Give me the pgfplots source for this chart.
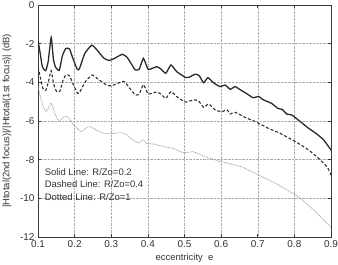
\documentclass[border=0pt]{standalone}
\usepackage{pgfplots}
\pgfplotsset{compat=1.18}
\usepackage{fontspec}
\setmainfont{Liberation Sans}

\definecolor{solidc}{HTML}{2A2A2A}
\definecolor{dashc}{HTML}{303030}
\definecolor{dotc}{HTML}{9A9A9A}
\definecolor{framec}{HTML}{3A3A3A}
\definecolor{textc}{HTML}{333333}

\begin{document}
\begin{tikzpicture}
\begin{axis}[
  name=ax,
  scale only axis,
  width=293bp, height=232bp,
  xmin=0.1, xmax=0.9, ymin=-12, ymax=0,
  xtick={0.1,0.2,0.3,0.4,0.5,0.6,0.7,0.8,0.9},
  xticklabels={0.1,0.2,0.3,0.4,0.5,0.6,0.7,0.8,0.9},
  ytick={-12,-10,-8,-6,-4,-2,0},
  yticklabels={-12,-10,-8,-6,-4,-2,0},
  tick align=inside,
  xtick pos=both, ytick pos=both,
  major tick length=3bp,
  grid=major,
  grid style={densely dotted, gray!65, line width=0.4pt},
  axis line style={framec, line width=0.8pt},
  tick style={framec, line width=0.6pt},
  every tick label/.style={font=\fontsize{10}{12}\selectfont, text=textc},
  /pgf/number format/assume math mode=true,
  xlabel={eccentricity\ \ e},
  ylabel={|Htotal(2nd focus)|/|Htotal(1st focus)| (dB)},
  label style={font=\fontsize{9.5}{11}\selectfont, text=textc},
  xlabel style={at={(axis description cs:0.5,-0.0905)}, anchor=center},
  ylabel style={at={(axis description cs:-0.1058,0.5)}, anchor=center},
  clip=true,
]
% R/Zo = 0.2
\addplot[solidc, line width=1.3bp, smooth, tension=0.3] coordinates {
(0.100,-1.85) (0.106,-2.5) (0.112,-3.2) (0.121,-3.40) (0.128,-2.9)
(0.136,-1.68) (0.142,-2.8) (0.148,-3.22) (0.158,-3.38) (0.167,-2.6)
(0.176,-2.25) (0.186,-2.27) (0.196,-2.8) (0.207,-3.32) (0.213,-3.3)
(0.228,-2.5) (0.247,-2.08) (0.262,-2.35) (0.280,-2.75) (0.294,-2.87)
(0.310,-2.75) (0.330,-2.55) (0.343,-2.70) (0.355,-3.05) (0.365,-3.35)
(0.376,-3.33) (0.388,-2.76) (0.401,-3.33) (0.424,-3.19) (0.435,-3.3)
(0.449,-3.53) (0.463,-3.10) (0.479,-3.45) (0.502,-3.74) (0.512,-3.74)
(0.529,-3.58) (0.540,-3.65) (0.552,-4.02) (0.564,-3.76) (0.579,-4.02)
(0.597,-4.22) (0.611,-4.14) (0.625,-4.36) (0.638,-4.22) (0.652,-4.38)
(0.665,-4.53) (0.679,-4.70) (0.688,-4.80) (0.702,-4.73) (0.716,-4.91)
(0.738,-5.09) (0.755,-5.35) (0.767,-5.40) (0.779,-5.64) (0.793,-5.69)
(0.816,-6.03) (0.839,-6.38) (0.861,-6.67) (0.880,-6.98) (0.900,-7.50)
};
% R/Zo = 0.4
\addplot[dashc, line width=1.1bp, dash pattern=on 3bp off 2bp, smooth, tension=0.3] coordinates {
(0.100,-3.20) (0.107,-3.8) (0.113,-4.3) (0.121,-4.42) (0.128,-4.0)
(0.136,-3.40) (0.143,-4.1) (0.151,-4.48) (0.160,-4.45) (0.168,-3.9)
(0.176,-3.62) (0.186,-3.66) (0.196,-4.1) (0.208,-4.57) (0.214,-4.5)
(0.230,-3.95) (0.248,-3.62) (0.265,-3.85) (0.287,-4.14) (0.300,-4.18)
(0.318,-4.05) (0.335,-3.95) (0.350,-4.30) (0.365,-4.64) (0.376,-4.62)
(0.388,-4.12) (0.401,-4.60) (0.424,-4.50) (0.435,-4.6) (0.449,-4.83)
(0.463,-4.48) (0.479,-4.74) (0.502,-5.02) (0.524,-4.91) (0.538,-4.95)
(0.552,-5.29) (0.566,-5.12) (0.584,-5.43) (0.602,-5.52) (0.616,-5.42)
(0.625,-5.64) (0.638,-5.55) (0.665,-5.81) (0.693,-6.03) (0.729,-6.38)
(0.757,-6.60) (0.784,-6.87) (0.811,-7.16) (0.839,-7.50) (0.866,-7.93)
(0.889,-8.36) (0.900,-8.79)
};
% R/Zo = 1
\addplot[dotc, line width=0.7bp, dash pattern=on 1bp off 0.8bp, smooth, tension=0.3] coordinates {
(0.100,-4.20) (0.106,-4.7) (0.113,-5.2) (0.121,-5.52) (0.128,-5.35)
(0.136,-5.08) (0.146,-5.6) (0.157,-6.03) (0.166,-5.85) (0.176,-5.74)
(0.186,-5.9) (0.198,-6.2) (0.217,-6.55) (0.228,-6.40) (0.240,-6.28)
(0.258,-6.45) (0.280,-6.64) (0.300,-6.66) (0.326,-6.60) (0.340,-6.68)
(0.357,-6.95) (0.374,-7.12) (0.388,-6.98) (0.397,-7.16) (0.415,-7.19)
(0.452,-7.36) (0.470,-7.42) (0.497,-7.64) (0.524,-7.59) (0.552,-7.81)
(0.597,-8.10) (0.611,-8.15) (0.657,-8.38) (0.702,-8.79) (0.748,-9.22)
(0.793,-9.71) (0.816,-10.0) (0.848,-10.52) (0.875,-11.03) (0.900,-11.50)
};
% annotations
\node[anchor=west, inner sep=0pt, font=\fontsize{9.5}{11}\selectfont, text=textc] at (axis cs:0.118,-8.62) {Solid Line: R/Zo=0.2};
\node[anchor=west, inner sep=0pt, font=\fontsize{9.5}{11}\selectfont, text=textc] at (axis cs:0.118,-9.27) {Dashed Line: R/Zo=0.4};
\node[anchor=west, inner sep=0pt, font=\fontsize{9.5}{11}\selectfont, text=textc] at (axis cs:0.118,-9.92) {Dotted Line: R/Zo=1};
\end{axis}
\pgfresetboundingbox
\path ([shift={(-38bp,-27bp)}]ax.south west) rectangle ([shift={(7bp,5bp)}]ax.north east);
\end{tikzpicture}
\end{document}
